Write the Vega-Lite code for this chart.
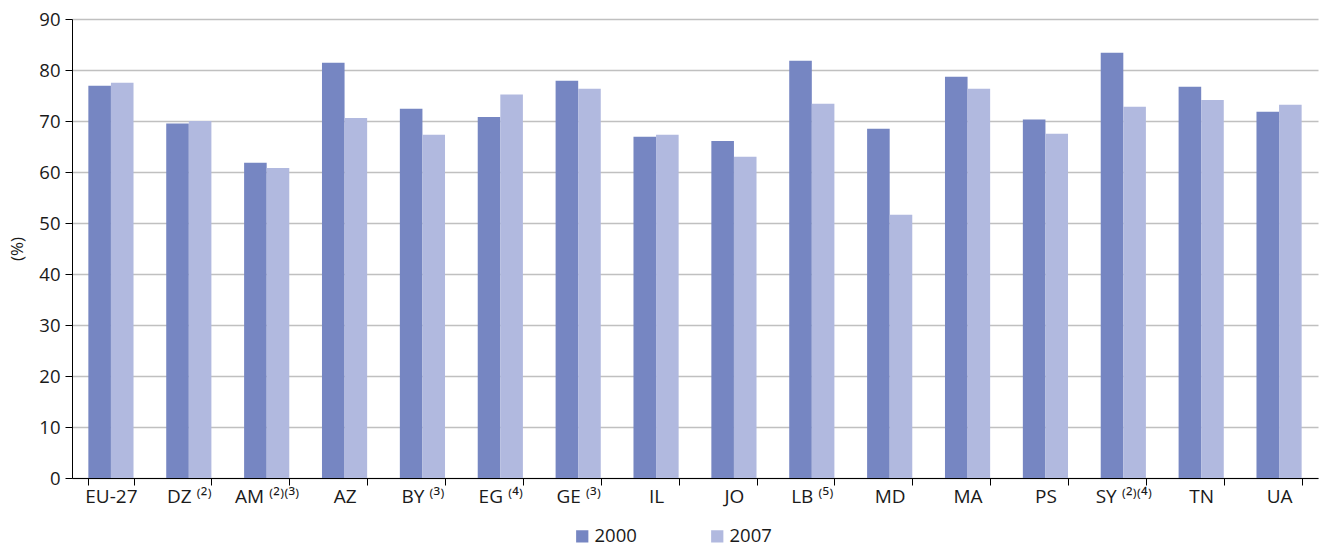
{
  "$schema": "https://vega.github.io/schema/vega-lite/v6.json",
  "width": 1246,
  "height": 459,
  "autosize": "none",
  "padding": {"left": 72, "top": 19, "right": 7, "bottom": 70},
  "background": "white",
  "config": {
    "font": "Open Sans",
    "view": {"stroke": null}
  },
  "data": {
    "values": [
      {"country": "EU-27", "year": "2000", "value": 76.9},
      {"country": "EU-27", "year": "2007", "value": 77.5},
      {"country": "DZ ⁽²⁾", "year": "2000", "value": 69.5},
      {"country": "DZ ⁽²⁾", "year": "2007", "value": 70.0},
      {"country": "AM ⁽²⁾⁽³⁾", "year": "2000", "value": 61.8},
      {"country": "AM ⁽²⁾⁽³⁾", "year": "2007", "value": 60.8},
      {"country": "AZ", "year": "2000", "value": 81.4},
      {"country": "AZ", "year": "2007", "value": 70.6},
      {"country": "BY ⁽³⁾", "year": "2000", "value": 72.4},
      {"country": "BY ⁽³⁾", "year": "2007", "value": 67.3},
      {"country": "EG ⁽⁴⁾", "year": "2000", "value": 70.8},
      {"country": "EG ⁽⁴⁾", "year": "2007", "value": 75.2},
      {"country": "GE ⁽³⁾", "year": "2000", "value": 77.9},
      {"country": "GE ⁽³⁾", "year": "2007", "value": 76.3},
      {"country": "IL", "year": "2000", "value": 66.9},
      {"country": "IL", "year": "2007", "value": 67.3},
      {"country": "JO", "year": "2000", "value": 66.1},
      {"country": "JO", "year": "2007", "value": 63.0},
      {"country": "LB ⁽⁵⁾", "year": "2000", "value": 81.8},
      {"country": "LB ⁽⁵⁾", "year": "2007", "value": 73.4},
      {"country": "MD", "year": "2000", "value": 68.5},
      {"country": "MD", "year": "2007", "value": 51.6},
      {"country": "MA", "year": "2000", "value": 78.7},
      {"country": "MA", "year": "2007", "value": 76.3},
      {"country": "PS", "year": "2000", "value": 70.3},
      {"country": "PS", "year": "2007", "value": 67.5},
      {"country": "SY ⁽²⁾⁽⁴⁾", "year": "2000", "value": 83.4},
      {"country": "SY ⁽²⁾⁽⁴⁾", "year": "2007", "value": 72.8},
      {"country": "TN", "year": "2000", "value": 76.7},
      {"country": "TN", "year": "2007", "value": 74.1},
      {"country": "UA", "year": "2000", "value": 71.8},
      {"country": "UA", "year": "2007", "value": 73.2}
    ]
  },
  "mark": {"type": "bar"},
  "encoding": {
    "x": {
      "field": "country",
      "type": "nominal",
      "sort": null,
      "scale": {"paddingInner": 0.42, "paddingOuter": 0.21},
      "axis": {
        "title": null,
        "labelAngle": 0,
        "tickBand": "extent",
        "tickSize": 7,
        "tickColor": "#000000",
        "domainColor": "#000000",
        "domainWidth": 1,
        "labelFontSize": 19,
        "labelColor": "#1a1a1a",
        "labelPadding": 2,
        "grid": false
      }
    },
    "y": {
      "field": "value",
      "type": "quantitative",
      "scale": {"domain": [0, 90]},
      "axis": {
        "values": [0, 10, 20, 30, 40, 50, 60, 70, 80, 90],
        "title": "(%)",
        "titleFontSize": 17,
        "titleFontWeight": "normal",
        "titleColor": "#1a1a1a",
        "titlePadding": 12,
        "grid": true,
        "gridColor": "#C0C0C0",
        "gridWidth": 1.5,
        "domainColor": "#000000",
        "tickColor": "#000000",
        "tickSize": 7,
        "labelFontSize": 18.5,
        "labelColor": "#1a1a1a",
        "labelPadding": 5
      }
    },
    "xOffset": {"field": "year", "type": "nominal"},
    "color": {
      "field": "year",
      "type": "nominal",
      "scale": {"range": ["#7686C2", "#B1B9DF"]},
      "legend": {
        "title": null,
        "orient": "none",
        "legendX": 501,
        "legendY": 508,
        "direction": "horizontal",
        "columns": 2,
        "columnPadding": 71,
        "symbolType": "square",
        "symbolSize": 150,
        "symbolStrokeWidth": 0,
        "labelFontSize": 18.5,
        "labelColor": "#1a1a1a",
        "labelOffset": 3
      }
    }
  }
}
